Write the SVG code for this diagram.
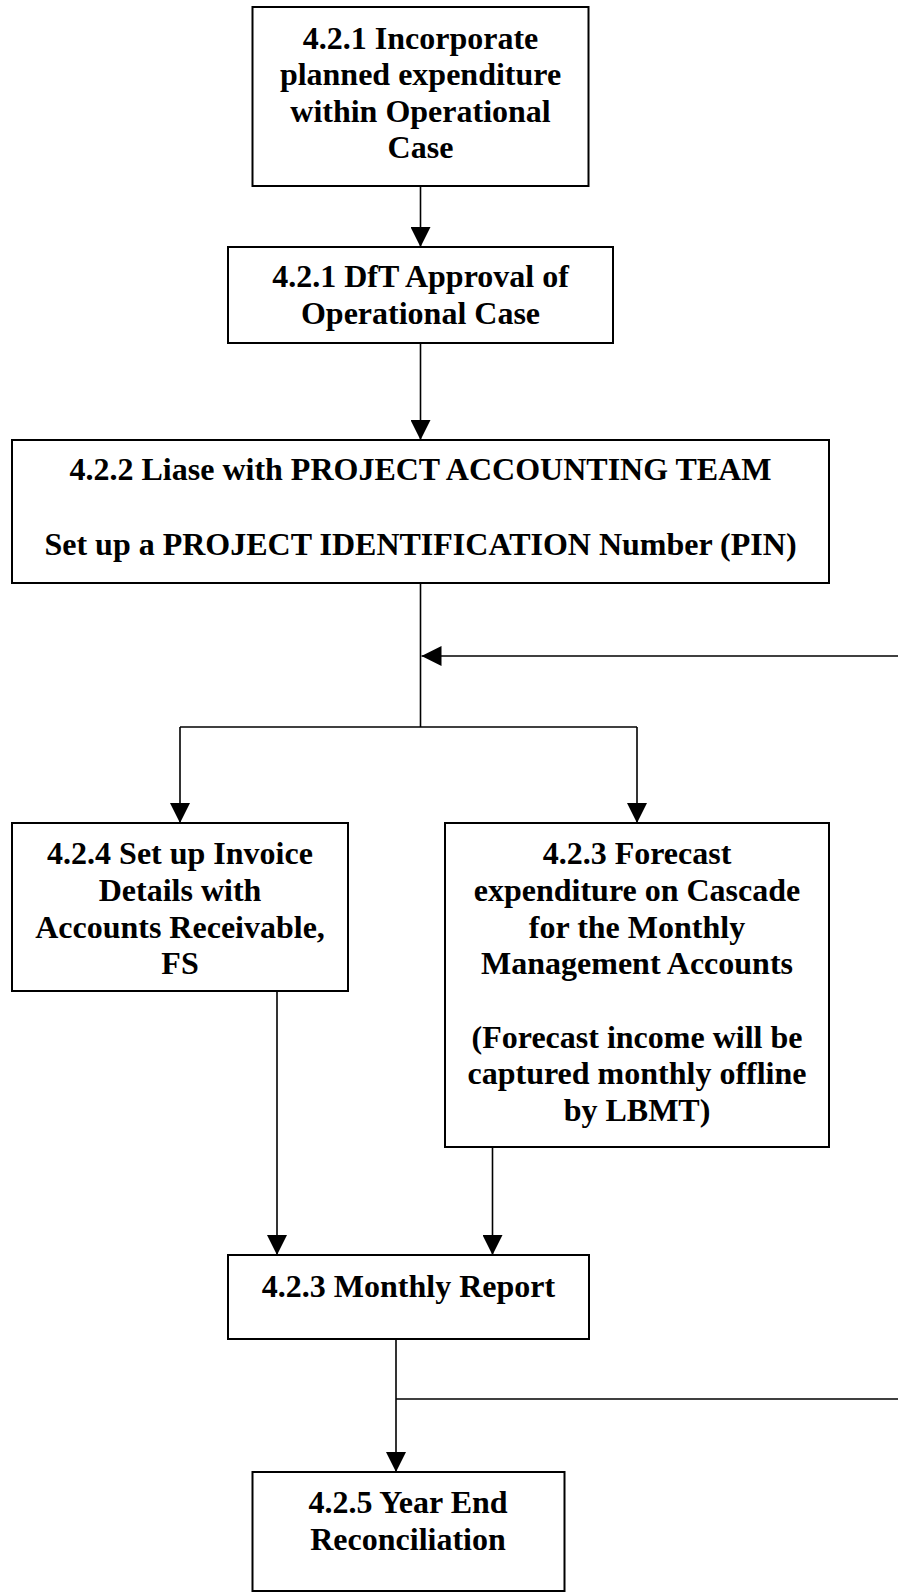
<svg xmlns="http://www.w3.org/2000/svg" width="898" height="1596" viewBox="0 0 898 1596">
<style>
.box{fill:#fff;stroke:#000;stroke-width:2}
.t{font-family:"Liberation Serif","Times New Roman",serif;font-weight:bold;font-size:32px;fill:#000;text-anchor:middle}
.c{fill:none;stroke:#000;stroke-width:1.6}
</style>
<defs>
<marker id="ah" markerUnits="userSpaceOnUse" markerWidth="20" markerHeight="20" refX="20" refY="10" orient="auto" viewBox="0 0 20 20">
<path d="M0,0 L20,10 L0,20 z" fill="#000"/>
</marker>
</defs>
<rect width="898" height="1596" fill="#fff"/>
<g id="connectors">
<line class="c" x1="420.5" y1="186" x2="420.5" y2="247" marker-end="url(#ah)"/>
<line class="c" x1="420.5" y1="343" x2="420.5" y2="440" marker-end="url(#ah)"/>
<line class="c" x1="420.5" y1="583" x2="420.5" y2="727"/>
<line class="c" x1="898" y1="656" x2="421.5" y2="656" marker-end="url(#ah)"/>
<line class="c" x1="180" y1="727" x2="637" y2="727"/>
<line class="c" x1="180" y1="727" x2="180" y2="823" marker-end="url(#ah)"/>
<line class="c" x1="637" y1="727" x2="637" y2="823" marker-end="url(#ah)"/>
<line class="c" x1="277" y1="991" x2="277" y2="1255" marker-end="url(#ah)"/>
<line class="c" x1="492.5" y1="1147" x2="492.5" y2="1255" marker-end="url(#ah)"/>
<line class="c" x1="396" y1="1339" x2="396" y2="1472" marker-end="url(#ah)"/>
<line class="c" x1="396" y1="1399" x2="898" y2="1399"/>
</g>
<g id="n1">
<rect class="box" x="252.5" y="7" width="336" height="179"/>
<text class="t" x="420.5" y="48.5">4.2.1 Incorporate</text>
<text class="t" x="420.5" y="85">planned expenditure</text>
<text class="t" x="420.5" y="121.5">within Operational</text>
<text class="t" x="420.5" y="158">Case</text>
</g>
<g id="n2">
<rect class="box" x="228" y="247" width="385" height="96"/>
<text class="t" x="420.5" y="287">4.2.1 DfT Approval of</text>
<text class="t" x="420.5" y="323.5">Operational Case</text>
</g>
<g id="n3">
<rect class="box" x="12" y="440" width="817" height="143"/>
<text class="t" x="420.5" y="479.5">4.2.2 Liase with PROJECT ACCOUNTING TEAM</text>
<text class="t" x="420.5" y="554.5">Set up a PROJECT IDENTIFICATION Number (PIN)</text>
</g>
<g id="n4">
<rect class="box" x="12" y="823" width="336" height="168"/>
<text class="t" x="180" y="864">4.2.4 Set up Invoice</text>
<text class="t" x="180" y="901">Details with</text>
<text class="t" x="180" y="937.5">Accounts Receivable,</text>
<text class="t" x="180" y="974">FS</text>
</g>
<g id="n5">
<rect class="box" x="445" y="823" width="384" height="324"/>
<text class="t" x="637" y="864">4.2.3 Forecast</text>
<text class="t" x="637" y="901">expenditure on Cascade</text>
<text class="t" x="637" y="937.5">for the Monthly</text>
<text class="t" x="637" y="974">Management Accounts</text>
<text class="t" x="637" y="1047.5">(Forecast income will be</text>
<text class="t" x="637" y="1084">captured monthly offline</text>
<text class="t" x="637" y="1120.5">by LBMT)</text>
</g>
<g id="n6">
<rect class="box" x="228" y="1255" width="361" height="84"/>
<text class="t" x="408.5" y="1297">4.2.3 Monthly Report</text>
</g>
<g id="n7">
<rect class="box" x="252.5" y="1472" width="312" height="119"/>
<text class="t" x="408" y="1512.5">4.2.5 Year End</text>
<text class="t" x="408" y="1549.5">Reconciliation</text>
</g>
</svg>
